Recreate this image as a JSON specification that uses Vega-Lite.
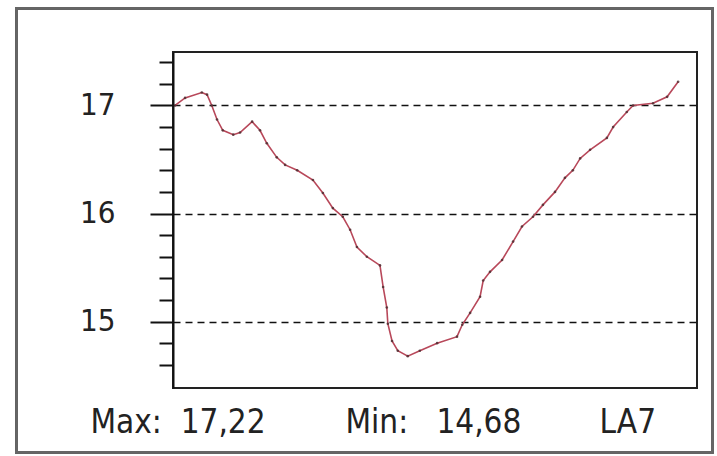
{
  "$schema": "https://vega.github.io/schema/vega-lite/v6.json",
  "width": 524,
  "height": 336,
  "autosize": "none",
  "padding": {"left": 173, "top": 52, "right": 20, "bottom": 68},
  "background": "white",
  "config": {
    "view": {"stroke": "#222222", "strokeWidth": 2},
    "axis": {"labelFont": "Liberation Sans Narrow, DejaVu Sans Condensed, Liberation Sans", "labelColor": "#222222"}
  },
  "data": {
    "values": [
      {"t": 0.4, "v": 17.0},
      {"t": 2.3, "v": 17.07},
      {"t": 5.5, "v": 17.12},
      {"t": 6.5, "v": 17.1},
      {"t": 7.4, "v": 17.0},
      {"t": 8.4, "v": 16.87},
      {"t": 9.5, "v": 16.77},
      {"t": 11.5, "v": 16.73},
      {"t": 12.8, "v": 16.75},
      {"t": 15.1, "v": 16.85},
      {"t": 16.6, "v": 16.77},
      {"t": 17.9, "v": 16.65},
      {"t": 19.8, "v": 16.52},
      {"t": 21.4, "v": 16.45},
      {"t": 23.7, "v": 16.4},
      {"t": 26.7, "v": 16.31},
      {"t": 28.6, "v": 16.19},
      {"t": 30.5, "v": 16.05},
      {"t": 32.4, "v": 15.97},
      {"t": 33.8, "v": 15.85},
      {"t": 35.1, "v": 15.69},
      {"t": 37.0, "v": 15.6},
      {"t": 39.5, "v": 15.52},
      {"t": 40.1, "v": 15.32},
      {"t": 40.8, "v": 15.13},
      {"t": 41.0, "v": 14.98},
      {"t": 41.8, "v": 14.82},
      {"t": 42.9, "v": 14.73},
      {"t": 44.8, "v": 14.68},
      {"t": 47.1, "v": 14.73},
      {"t": 50.4, "v": 14.8},
      {"t": 54.2, "v": 14.86},
      {"t": 55.2, "v": 14.97},
      {"t": 56.7, "v": 15.08},
      {"t": 58.6, "v": 15.23},
      {"t": 59.2, "v": 15.38},
      {"t": 60.5, "v": 15.46},
      {"t": 62.8, "v": 15.57},
      {"t": 64.9, "v": 15.74},
      {"t": 66.6, "v": 15.88},
      {"t": 68.7, "v": 15.97},
      {"t": 70.6, "v": 16.08},
      {"t": 72.9, "v": 16.2},
      {"t": 74.8, "v": 16.33},
      {"t": 76.3, "v": 16.4},
      {"t": 77.7, "v": 16.51},
      {"t": 79.6, "v": 16.59},
      {"t": 82.8, "v": 16.7},
      {"t": 84.0, "v": 16.8},
      {"t": 86.6, "v": 16.94},
      {"t": 87.8, "v": 17.0},
      {"t": 91.6, "v": 17.02},
      {"t": 94.3, "v": 17.08},
      {"t": 96.4, "v": 17.22}
    ]
  },
  "layer": [
    {
      "mark": {"type": "line", "color": "#b8485a", "strokeWidth": 1.6},
      "encoding": {
        "x": {
          "field": "t", "type": "quantitative",
          "scale": {"domain": [0, 100], "nice": false, "zero": false},
          "axis": {
            "orient": "bottom", "title": null, "domain": false, "ticks": false, "tickSize": 0, "grid": false,
            "values": [0.86, 49.6, 86.7],
            "labelExpr": "datum.value < 20 ? 'Max:\u00a0 17,22' : (datum.value < 70 ? 'Min:\u00a0\u00a0 14,68' : 'LA7')",
            "labelFontSize": 33, "labelPadding": 44, "labelBaseline": "alphabetic", "labelLimit": 0,
            "labelFlush": false, "labelOverlap": false, "labelBound": false
          }
        },
        "y": {
          "field": "v", "type": "quantitative",
          "scale": {"domain": [14.385, 17.495], "nice": false, "zero": false},
          "axis": {
            "orient": "left", "title": null, "values": [15, 16, 17],
            "domain": true, "domainColor": "#111111", "domainWidth": 2,
            "ticks": true, "tickSize": 23, "tickWidth": 2, "tickColor": "#111111",
            "labelFontSize": 31, "labelPadding": 35, "labelBaseline": "middle",
            "grid": true, "gridColor": "#111111", "gridDash": [7, 5], "gridWidth": 1.5, "gridOpacity": 1
          }
        }
      }
    },
    {
      "mark": {"type": "point", "filled": true, "color": "#4a2a2e", "size": 7, "opacity": 0.8},
      "encoding": {
        "x": {"field": "t", "type": "quantitative"},
        "y": {
          "field": "v", "type": "quantitative",
          "axis": {
            "orient": "left", "title": null, "labels": false, "domain": false, "grid": false,
            "values": [14.6, 14.8, 15.2, 15.4, 15.6, 15.8, 16.2, 16.4, 16.6, 16.8, 17.2, 17.4],
            "ticks": true, "tickSize": 14, "tickWidth": 2, "tickColor": "#111111"
          }
        }
      }
    },
    {
      "mark": {"type": "rect", "fill": null, "fillOpacity": 0, "stroke": "#666666", "strokeWidth": 2},
      "encoding": {
        "x": {"datum": -29.8, "type": "quantitative"},
        "x2": {"datum": 102.9},
        "y": {"datum": 17.9, "type": "quantitative", "axis": null},
        "y2": {"datum": 13.79}
      }
    }
  ],
  "resolve": {"axis": {"y": "independent"}}
}
